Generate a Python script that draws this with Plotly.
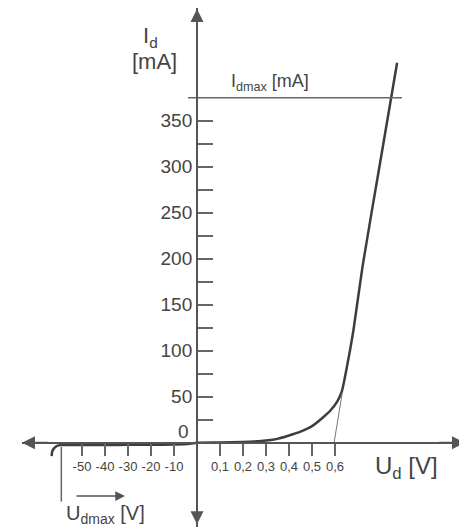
import numpy as np
import plotly.graph_objects as go

# Diode characteristic (volts, mA)
rev_v = [-63.2, -63.0, -62.4, -61.3, -59.6, -50, -40, -30, -20, -10, -3, 0]
rev_i = [-14.5, -10.1, -6.8, -4.1, -2.6, -2.5, -2.4, -2.3, -2.2, -2.0, -1.2, 0]
fwd_v = [0.1, 0.2, 0.25, 0.3, 0.35, 0.4, 0.45, 0.5, 0.55, 0.58, 0.61, 0.63, 0.65, 0.68, 0.72, 0.8, 0.87]
fwd_i = [0.3, 0.8, 1.3, 2.3, 4.2, 7.8, 12, 18, 28, 35, 45, 56, 80, 122, 192, 310, 413]

# tangent to the linear part, hitting the axis near 0,6 V
tan_v = [0.596, 0.632]
tan_i = [0, 55]

I_DMAX = 375
I_DMAX_SPAN = [-3.9, 0.891]
U_DMAX = -59
U_DMAX_SPAN = [-4.5, -64]

x_neg_ticks = [-50, -40, -30, -20, -10]
x_pos_ticks = [0.1, 0.2, 0.3, 0.4, 0.5, 0.6]
x_neg_labels = ["-50", "-40", "-30", "-20", "-10"]
x_pos_labels = ["0,1", "0,2", "0,3", "0,4", "0,5", "0,6"]
y_ticks = list(range(25, 351, 25))
y_labels = [str(v) if v % 50 == 0 else "" for v in y_ticks]

INK = "#3d3d3d"
AXIS = "#555"
TEXT = "#444"
FONT = "Liberation Sans, Arial, sans-serif"


def to_u(v):
    # broken scale: 10 V per unit on the left, 0,1 V per unit on the right
    v = np.asarray(v, dtype=float)
    return np.where(v >= 0, v * 10, v / 10)


U_RANGE = [-7.609, 11.652]
I_RANGE = [-91.6, 472.5]

fig = go.Figure()

fig.add_trace(go.Scatter(
    x=to_u(rev_v + fwd_v), y=rev_i + fwd_i, mode="lines",
    line=dict(color=INK, width=2.5, shape="spline", smoothing=0.6),
    hoverinfo="skip",
))
fig.add_trace(go.Scatter(
    x=to_u(tan_v), y=tan_i, mode="lines",
    line=dict(color="#777", width=1), hoverinfo="skip",
))
fig.add_trace(go.Scatter(
    x=to_u(I_DMAX_SPAN), y=[I_DMAX, I_DMAX], mode="lines",
    line=dict(color="#666", width=1.5), hoverinfo="skip",
))
fig.add_trace(go.Scatter(
    x=to_u([U_DMAX, U_DMAX]), y=U_DMAX_SPAN, mode="lines",
    line=dict(color="#666", width=1.5), hoverinfo="skip",
))

x_pos = (0 - I_RANGE[0]) / (I_RANGE[1] - I_RANGE[0])
y_pos = (0 - U_RANGE[0]) / (U_RANGE[1] - U_RANGE[0])

fig.update_xaxes(
    range=U_RANGE, anchor="free", position=x_pos, automargin=False,
    showline=True, linecolor=AXIS, linewidth=2,
    showgrid=False, zeroline=False,
    ticks="outside", ticklen=12, tickwidth=1.5, tickcolor="#666",
    tickvals=to_u(x_neg_ticks + x_pos_ticks), ticktext=x_neg_labels + x_pos_labels,
    tickfont=dict(size=13, color=TEXT, family=FONT),
)
fig.update_yaxes(
    range=I_RANGE, anchor="free", position=y_pos, automargin=False,
    showline=True, linecolor=AXIS, linewidth=2,
    showgrid=False, zeroline=False,
    ticks="inside", ticklen=15, tickwidth=1.5, tickcolor="#666",
    tickvals=y_ticks, ticktext=y_labels,
    tickfont=dict(size=19, color=TEXT, family=FONT),
)

arrow = dict(showarrow=True, arrowhead=2, arrowsize=1.3, arrowwidth=2,
             arrowcolor=AXIS, text="", xref="x", yref="y", axref="x", ayref="y")
fig.add_annotation(x=U_RANGE[0], y=0, ax=U_RANGE[0] + 1.2, ay=0, **arrow)
fig.add_annotation(x=U_RANGE[1], y=0, ax=U_RANGE[1] - 1.2, ay=0, **arrow)
fig.add_annotation(x=0, y=I_RANGE[1] - 1, ax=0, ay=I_RANGE[1] - 21, **arrow)
fig.add_annotation(x=0, y=I_RANGE[0] + 3, ax=0, ay=I_RANGE[0] + 23, **arrow)
# U_dmax direction arrow
fig.add_annotation(x=-3.13, y=-58, ax=-5.3, ay=-58,
                   **{**arrow, "arrowwidth": 1.5, "arrowcolor": "#555"})


def label(x, y, text, size, **kw):
    fig.add_annotation(x=x, y=y, text=text, showarrow=False, xref="x", yref="y",
                       font=dict(size=size, family=FONT, color=TEXT), **kw)


label(-2.04, 441, "I<sub>d</sub>", 22)
label(-1.83, 414, "[mA]", 22)
label(-0.28, 12, "0", 19, xanchor="right")
label(3.17, 391, "I<sub>dmax</sub> [mA]", 18)
label(9.09, -26.4, "U<sub>d</sub> [V]", 24)
label(-3.96, -77.5, "U<sub>dmax</sub> [V]", 20)

# the page body adds an 8px offset, so the figure is 8px smaller than the window
fig.update_layout(
    width=459, height=519,
    margin=dict(l=14, r=2, t=0, b=0, autoexpand=False),
    plot_bgcolor="white", paper_bgcolor="white",
    showlegend=False,
    font=dict(family=FONT, color=TEXT),
)

fig.write_html("out.html")
